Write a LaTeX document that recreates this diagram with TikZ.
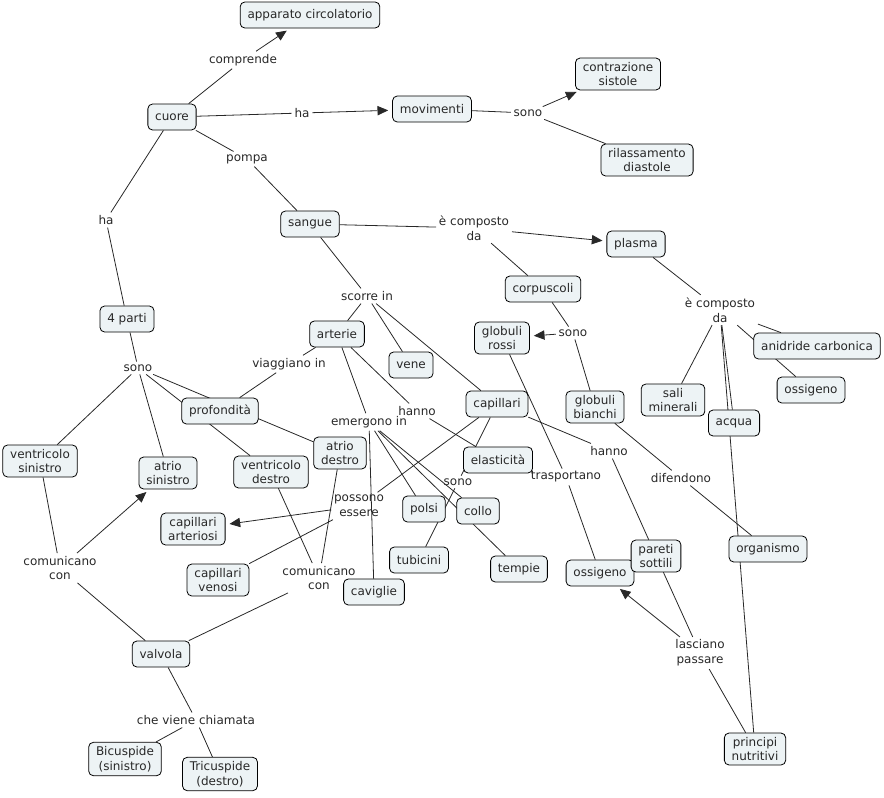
\documentclass[tikz,border=0pt]{standalone}
\usepackage{fontspec}
\setmainfont{DejaVu Sans}
\usetikzlibrary{arrows.meta,backgrounds}
\definecolor{conceptfill}{RGB}{237,243,245}
\definecolor{inkgray}{RGB}{40,40,40}

\begin{document}
\begin{tikzpicture}[x=0.75pt,y=-0.75pt,
  font=\fontsize{9}{11}\selectfont, text=inkgray,
  concept/.style={draw=black, fill=conceptfill, rounded corners=3.5pt, line width=0.6pt,
    align=center, inner xsep=5.5pt, inner ysep=3pt, minimum height=19.5pt},
  phrase/.style={align=center, inner sep=2pt},
  link/.style={draw=inkgray, line width=0.6pt},
  arrow/.style={link, -{Triangle[length=8pt,width=7pt]}, shorten >=3pt}]
\useasboundingbox (0,0) rectangle (884,797);
% Define the nodes
\node[concept] at (310,15) (appcirc) {apparato circolatorio};
\node[concept] at (172,117) (cuore) {cuore};
\node[concept] at (432,109) (movimenti) {movimenti};
\node[concept] at (618,74) (contrazione) {contrazione\\sistole};
\node[concept] at (647,160) (rilassamento) {rilassamento\\diastole};
\node[concept] at (310,224) (sangue) {sangue};
\node[concept] at (636,244) (plasma) {plasma};
\node[concept] at (543,289) (corpuscoli) {corpuscoli};
\node[concept] at (127,319) (parti) {4 parti};
\node[concept] at (337,334) (arterie) {arterie};
\node[concept] at (411,365) (vene) {vene};
\node[concept] at (502,338) (rossi) {globuli\\rossi};
\node[concept] at (817,346) (anidride) {anidride carbonica};
\node[concept] at (811,390) (ossigenoA) {ossigeno};
\node[concept] at (673,400) (sali) {sali\\minerali};
\node[concept] at (734,423) (acqua) {acqua};
\node[concept] at (595,407) (bianchi) {globuli\\bianchi};
\node[concept] at (497,404) (capillari) {capillari};
\node[concept] at (220,411) (profondita) {profondità};
\node[concept] at (40,461) (ventsin) {ventricolo\\sinistro};
\node[concept] at (168,473) (atriosin) {atrio\\sinistro};
\node[concept] at (271,472) (ventdes) {ventricolo\\destro};
\node[concept] at (340,453) (atriodes) {atrio\\destro};
\node[concept] at (498,460) (elasticita) {elasticità};
\node[concept] at (424,509) (polsi) {polsi};
\node[concept] at (478,511) (collo) {collo};
\node[concept] at (193,529) (caparteriosi) {capillari\\arteriosi};
\node[concept] at (218,580) (capvenosi) {capillari\\venosi};
\node[concept] at (419,560) (tubicini) {tubicini};
\node[concept] at (519,569) (tempie) {tempie};
\node[concept] at (374,592) (caviglie) {caviglie};
\node[concept] at (600,573) (ossigenoB) {ossigeno};
\node[concept] at (656,556) (pareti) {pareti\\sottili};
\node[concept] at (768,549) (organismo) {organismo};
\node[concept] at (161,654) (valvola) {valvola};
\node[concept] at (125,759) (bicuspide) {Bicuspide\\(sinistro)};
\node[concept] at (220,774) (tricuspide) {Tricuspide\\(destro)};
\node[concept] at (755,749) (principi) {principi\\nutritivi};
% Define the linking phrases
\node[phrase] at (243,60) (lcomprende) {comprende};
\node[phrase] at (302,113) (lha1) {ha};
\node[phrase] at (528,113) (lsono1) {sono};
\node[phrase] at (247,159) (lpompa) {pompa};
\node[phrase] at (106,220) (lha2) {ha};
\node[phrase] at (474,228) (lcomposto1) {è composto\\da};
\node[phrase] at (367,296) (lscorre) {scorre in};
\node[phrase] at (720,310) (lcomposto2) {è composto\\da};
\node[phrase] at (138,368) (lsono2) {sono};
\node[phrase] at (289,364) (lviaggiano) {viaggiano in};
\node[phrase] at (417,411) (lhanno1) {hanno};
\node[phrase] at (369,422) (lemergono) {emergono in};
\node[phrase] at (573,333) (lsono3) {sono};
\node[phrase] at (458,482) (lsono4) {sono};
\node[phrase] at (609,451) (lhanno2) {hanno};
\node[phrase] at (566,477) (ltrasportano) {trasportano};
\node[phrase] at (681,478) (ldifendono) {difendono};
\node[phrase] at (359,506) (lpossono) {possono\\essere};
\node[phrase] at (60,568) (lcomunica1) {comunicano\\con};
\node[phrase] at (319,578) (lcomunica2) {comunicano\\con};
\node[phrase] at (196,720) (lchiamata) {che viene chiamata};
\node[phrase] at (700,653) (llasciano) {lasciano\\passare};
% Draw the paths
\begin{scope}[on background layer]
\draw[link] (cuore) -- (lcomprende);
\draw[arrow] (lcomprende) -- (appcirc);
\draw[link] (cuore) -- (lha1);
\draw[arrow] (lha1) -- (movimenti);
\draw[link] (movimenti) -- (lsono1);
\draw[arrow] (lsono1) -- (contrazione);
\draw[link] (lsono1) -- (rilassamento);
\draw[link] (cuore) -- (lpompa);
\draw[link] (lpompa) -- (sangue);
\draw[link] (cuore) -- (lha2);
\draw[link] (lha2) -- (parti);
\draw[link] (sangue) -- (lcomposto1);
\draw[arrow] (lcomposto1) -- (plasma);
\draw[link] (lcomposto1) -- (corpuscoli);
\draw[link] (sangue) -- (lscorre);
\draw[link] (lscorre) -- (arterie);
\draw[link] (lscorre) -- (vene);
\draw[link] (lscorre) -- (capillari);
\draw[link] (plasma) -- (lcomposto2);
\draw[link] (lcomposto2) -- (sali);
\draw[link] (lcomposto2) -- (acqua);
\draw[link] (lcomposto2) -- (principi);
\draw[link] (lcomposto2) -- (anidride);
\draw[link] (lcomposto2) -- (ossigenoA);
\draw[link] (parti) -- (lsono2);
\draw[link] (lsono2) -- (ventsin);
\draw[link] (lsono2) -- (atriosin);
\draw[link] (lsono2) -- (ventdes);
\draw[link] (lsono2) -- (atriodes);
\draw[link] (arterie) -- (lviaggiano);
\draw[link] (lviaggiano) -- (profondita);
\draw[link] (arterie) -- (lhanno1);
\draw[link] (lhanno1) -- (elasticita);
\draw[link] (arterie) -- (lemergono);
\draw[link] (lemergono) -- (polsi);
\draw[link] (lemergono) -- (collo);
\draw[link] (lemergono) -- (tempie);
\draw[link] (lemergono) -- (caviglie);
\draw[link] (corpuscoli) -- (lsono3);
\draw[arrow] (lsono3) -- (rossi);
\draw[link] (lsono3) -- (bianchi);
\draw[link] (capillari) -- (lsono4);
\draw[link] (lsono4) -- (tubicini);
\draw[link] (capillari) -- (lhanno2);
\draw[link] (lhanno2) -- (pareti);
\draw[link] (capillari) -- (lpossono);
\draw[arrow] (lpossono) -- (caparteriosi);
\draw[link] (lpossono) -- (capvenosi);
\draw[link] (rossi) -- (ltrasportano);
\draw[link] (ltrasportano) -- (ossigenoB);
\draw[link] (bianchi) -- (ldifendono);
\draw[link] (ldifendono) -- (organismo);
\draw[link] (ventsin) -- (lcomunica1);
\draw[arrow] (lcomunica1) -- (atriosin);
\draw[link] (lcomunica1) -- (valvola);
\draw[link] (ventdes) -- (lcomunica2);
\draw[link] (atriodes) -- (lcomunica2);
\draw[link] (lcomunica2) -- (valvola);
\draw[link] (valvola) -- (lchiamata);
\draw[link] (lchiamata) -- (bicuspide);
\draw[link] (lchiamata) -- (tricuspide);
\draw[link] (pareti) -- (llasciano);
\draw[arrow] (llasciano) -- (ossigenoB);
\draw[link] (llasciano) -- (principi);
\end{scope}
\end{tikzpicture}
\end{document}
